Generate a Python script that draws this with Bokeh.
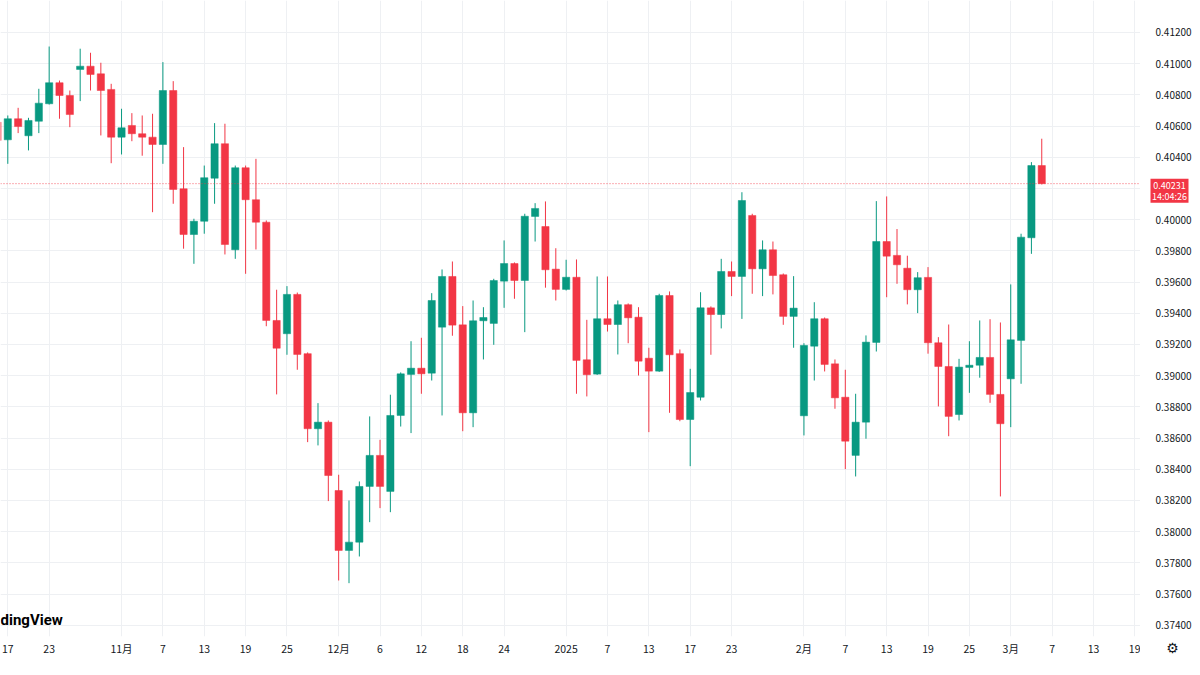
import pandas as pd
from bokeh.plotting import figure
from bokeh.layouts import row
from bokeh.models import Range1d, FixedTicker, Span, Label, ColumnDataSource
from bokeh.core.properties import value
from bokeh.embed import file_html
from bokeh.resources import INLINE

# ---------------- data ----------------
dates = [
    "2024-10-16", "2024-10-17", "2024-10-18", "2024-10-21", "2024-10-22", "2024-10-23", "2024-10-24", "2024-10-25",
    "2024-10-28", "2024-10-29", "2024-10-30", "2024-10-31", "2024-11-01", "2024-11-04", "2024-11-05", "2024-11-06",
    "2024-11-07", "2024-11-08", "2024-11-11", "2024-11-12", "2024-11-13", "2024-11-14", "2024-11-15", "2024-11-18",
    "2024-11-19", "2024-11-20", "2024-11-21", "2024-11-22", "2024-11-25", "2024-11-26", "2024-11-27", "2024-11-28",
    "2024-11-29", "2024-12-02", "2024-12-03", "2024-12-04", "2024-12-05", "2024-12-06", "2024-12-09", "2024-12-10",
    "2024-12-11", "2024-12-12", "2024-12-13", "2024-12-16", "2024-12-17", "2024-12-18", "2024-12-19", "2024-12-20",
    "2024-12-23", "2024-12-24", "2024-12-25", "2024-12-26", "2024-12-27", "2024-12-30", "2024-12-31", "2025-01-01",
    "2025-01-02", "2025-01-03", "2025-01-06", "2025-01-07", "2025-01-08", "2025-01-09", "2025-01-10", "2025-01-13",
    "2025-01-14", "2025-01-15", "2025-01-16", "2025-01-17", "2025-01-20", "2025-01-21", "2025-01-22", "2025-01-23",
    "2025-01-24", "2025-01-27", "2025-01-28", "2025-01-29", "2025-01-30", "2025-01-31", "2025-02-03", "2025-02-04",
    "2025-02-05", "2025-02-06", "2025-02-07", "2025-02-10", "2025-02-11", "2025-02-12", "2025-02-13", "2025-02-14",
    "2025-02-17", "2025-02-18", "2025-02-19", "2025-02-20", "2025-02-21", "2025-02-24", "2025-02-25", "2025-02-26",
    "2025-02-27", "2025-02-28", "2025-03-03", "2025-03-04", "2025-03-05", "2025-03-06",
]

opens = [
    0.40625, 0.40512, 0.40647, 0.40538, 0.40631, 0.40743, 0.40878, 0.40796, 0.40963, 0.40984,
    0.40935, 0.40835, 0.40529, 0.40604, 0.40551, 0.40529, 0.40482, 0.40828, 0.40198, 0.39905,
    0.39990, 0.40266, 0.40487, 0.39807, 0.40333, 0.40128, 0.39984, 0.39354, 0.39269, 0.39521,
    0.39141, 0.38660, 0.38702, 0.38264, 0.37880, 0.37933, 0.38290, 0.38489, 0.38258, 0.38745,
    0.39008, 0.39048, 0.39016, 0.39311, 0.39636, 0.39326, 0.38762, 0.39352, 0.39335, 0.39606,
    0.39719, 0.39610, 0.40021, 0.39956, 0.39683, 0.39553, 0.39631, 0.39102, 0.39010, 0.39365,
    0.39328, 0.39455, 0.39375, 0.39112, 0.39029, 0.39514, 0.39141, 0.38719, 0.38862, 0.39435,
    0.39392, 0.39668, 0.39636, 0.40027, 0.39685, 0.39807, 0.39647, 0.39380, 0.38743, 0.39189,
    0.39365, 0.39076, 0.38862, 0.38489, 0.38702, 0.39213, 0.39860, 0.39771, 0.39689, 0.39551,
    0.39630, 0.39211, 0.39059, 0.38751, 0.39053, 0.39067, 0.39117, 0.38880, 0.38980, 0.39226,
    0.39884, 0.40347,
]

highs = [
    0.40649, 0.40668, 0.40717, 0.40653, 0.40839, 0.41110, 0.40892, 0.40828, 0.41096, 0.41070,
    0.41006, 0.40871, 0.40711, 0.40683, 0.40668, 0.40679, 0.41010, 0.40888, 0.40465, 0.40006,
    0.40347, 0.40619, 0.40615, 0.40347, 0.40347, 0.40390, 0.39995, 0.39551, 0.39574, 0.39533,
    0.39149, 0.38824, 0.38713, 0.38365, 0.38200, 0.38322, 0.38739, 0.38589, 0.38878, 0.39021,
    0.39221, 0.39243, 0.39529, 0.39681, 0.39732, 0.39446, 0.39482, 0.39439, 0.39621, 0.39867,
    0.39726, 0.40038, 0.40106, 0.40117, 0.39817, 0.39743, 0.39745, 0.39358, 0.39636, 0.39636,
    0.39482, 0.39463, 0.39439, 0.39179, 0.39525, 0.39540, 0.39168, 0.39044, 0.39535, 0.39444,
    0.39749, 0.39732, 0.40176, 0.40038, 0.39867, 0.39860, 0.39655, 0.39638, 0.39208, 0.39471,
    0.39373, 0.39104, 0.39038, 0.38884, 0.39258, 0.40119, 0.40149, 0.39940, 0.39769, 0.39664,
    0.39696, 0.39247, 0.39328, 0.39108, 0.39221, 0.39354, 0.39362, 0.39341, 0.39585, 0.39910,
    0.40369, 0.40519,
]

lows = [
    0.40476, 0.40358, 0.40555, 0.40444, 0.40555, 0.40738, 0.40647, 0.40593, 0.40760, 0.40828,
    0.40540, 0.40362, 0.40418, 0.40503, 0.40410, 0.40048, 0.40358, 0.40102, 0.39814, 0.39717,
    0.39910, 0.40102, 0.39777, 0.39749, 0.39653, 0.39809, 0.39317, 0.38880, 0.39134, 0.39038,
    0.38574, 0.38553, 0.38196, 0.37687, 0.37670, 0.37841, 0.38061, 0.38151, 0.38125, 0.38674,
    0.38632, 0.38884, 0.38969, 0.38745, 0.39256, 0.38644, 0.38670, 0.39104, 0.39198, 0.39435,
    0.39493, 0.39279, 0.39860, 0.39564, 0.39482, 0.39546, 0.38884, 0.38867, 0.39005, 0.39283,
    0.39136, 0.39208, 0.39001, 0.38638, 0.39024, 0.38762, 0.38708, 0.38420, 0.38841, 0.39134,
    0.39303, 0.39510, 0.39364, 0.39525, 0.39510, 0.39521, 0.39326, 0.39179, 0.38617, 0.38969,
    0.39027, 0.38788, 0.38401, 0.38354, 0.38596, 0.39155, 0.39503, 0.39589, 0.39457, 0.39401,
    0.39141, 0.38803, 0.38612, 0.38713, 0.38890, 0.38987, 0.38826, 0.38226, 0.38670, 0.38948,
    0.39781, 0.40226,
]

closes = [
    0.40508, 0.40647, 0.40597, 0.40636, 0.40747, 0.40878, 0.40796, 0.40674, 0.40984, 0.40931,
    0.40828, 0.40529, 0.40589, 0.40551, 0.40529, 0.40482, 0.40828, 0.40194, 0.39905, 0.39990,
    0.40269, 0.40487, 0.39841, 0.40333, 0.40128, 0.39984, 0.39354, 0.39176, 0.39521, 0.39136,
    0.38660, 0.38702, 0.38360, 0.37880, 0.37933, 0.38290, 0.38489, 0.38290, 0.38745, 0.39012,
    0.39048, 0.39012, 0.39482, 0.39636, 0.39324, 0.38762, 0.39352, 0.39373, 0.39610, 0.39719,
    0.39610, 0.40022, 0.40072, 0.39679, 0.39553, 0.39631, 0.39098, 0.39006, 0.39365, 0.39328,
    0.39455, 0.39371, 0.39093, 0.39029, 0.39514, 0.39134, 0.38719, 0.38892, 0.39435, 0.39392,
    0.39668, 0.39636, 0.40123, 0.39685, 0.39807, 0.39642, 0.39380, 0.39433, 0.39194, 0.39365,
    0.39072, 0.38858, 0.38580, 0.38702, 0.39215, 0.39860, 0.39766, 0.39711, 0.39551, 0.39628,
    0.39211, 0.39059, 0.38739, 0.39055, 0.39067, 0.39117, 0.38880, 0.38692, 0.39230, 0.39888,
    0.40347, 0.40231,
]

tick_dates = [
    "2024-10-17", "2024-10-23", "2024-11-01", "2024-11-07", "2024-11-13", "2024-11-19", "2024-11-25",
    "2024-12-02", "2024-12-06", "2024-12-12", "2024-12-18", "2024-12-24", "2025-01-01", "2025-01-07",
    "2025-01-13", "2025-01-17", "2025-01-23", "2025-02-03", "2025-02-07", "2025-02-13", "2025-02-19",
    "2025-02-25", "2025-03-03", "2025-03-07", "2025-03-13", "2025-03-19",
]
tick_labels = [
    "17", "23", "11月", "7", "13", "19", "25", "12月", "6", "12", "18", "24", "2025", "7",
    "13", "17", "23", "2月", "7", "13", "19", "25", "3月", "7", "13", "19",
]
price_ticks = [0.374, 0.376, 0.378, 0.380, 0.382, 0.384, 0.386, 0.388, 0.390, 0.392,
               0.394, 0.396, 0.398, 0.400, 0.402, 0.404, 0.406, 0.408, 0.410, 0.412]
last_price = 0.40231
last_price_text = "0.40231"
countdown_text = "14:04:26"

# ---------------- styling ----------------
UP = "#089981"
DOWN = "#F23645"
GRID = "#eef0f3"
TXT = "#131722"
FONT = "Noto Sans CJK SC"
TOP_PRICE = 0.41405      # price at the top edge of the panes
PX = 0.002 / 31.2        # price per pixel
PANE_H = 636             # height of the price panes in pixels

# trading-session index (weekdays) for the time axis
sessions = pd.bdate_range("2024-10-14", "2025-03-31")
pos = {d.strftime("%Y-%m-%d"): i for i, d in enumerate(sessions)}
base = pos[dates[0]]
xs = [pos[d] - base for d in dates]
tick_x = [pos[d] - base for d in tick_dates]

colors = [UP if c >= o else DOWN for o, c in zip(opens, closes)]
src = ColumnDataSource(dict(
    x=xs, o=opens, h=highs, l=lows, c=closes,
    top=[max(o, c) for o, c in zip(opens, closes)],
    bot=[min(o, c) for o, c in zip(opens, closes)],
    color=colors,
))

y_rng = Range1d(TOP_PRICE - PANE_H * PX, TOP_PRICE)

# ---------------- main price pane ----------------
p = figure(
    width=1140, height=675,
    x_range=Range1d(0.294, 110.55),
    y_range=y_rng,
    y_axis_location=None,
    output_backend="svg",
    toolbar_location=None,
    min_border_left=0, min_border_top=0, min_border_right=0, min_border_bottom=39,
)
p.outline_line_color = None
p.background_fill_color = "white"
p.border_fill_color = "white"

p.segment(x0="x", y0="h", x1="x", y1="l", color="color", line_width=1, source=src)
p.vbar(x="x", width=0.7, top="top", bottom="bot", fill_color="color", line_color="color",
       line_width=0.5, source=src)

xa = p.xaxis[0]
xa.ticker = FixedTicker(ticks=tick_x)
xa.major_label_overrides = {t: lab for t, lab in zip(tick_x, tick_labels)}
xa.axis_line_color = None
xa.major_tick_line_color = None
xa.minor_tick_line_color = None
xa.major_tick_out = 0
xa.major_tick_in = 0
xa.minor_tick_out = 0
xa.major_label_standoff = 4
xa.major_label_text_font = FONT
xa.major_label_text_font_size = "10.5px"
xa.major_label_text_color = TXT

p.xgrid.ticker = FixedTicker(ticks=tick_x)
p.ygrid.ticker = FixedTicker(ticks=price_ticks)
p.xgrid.grid_line_color = GRID
p.ygrid.grid_line_color = GRID

p.add_layout(Span(location=last_price, dimension="width", line_color=DOWN,
                  line_dash="1 2", line_width=1, line_alpha=0.8))
p.add_layout(Label(x=0, x_units="screen", y=17, y_units="screen",
                   text="dingView", text_baseline="middle", text_align="left",
                   text_color="#000000", text_font="Roboto", text_font_style="bold",
                   text_font_size="15px"))

# ---------------- price scale pane ----------------
s = figure(
    width=60, height=675,
    x_range=Range1d(0, 60),
    y_range=y_rng,
    y_axis_location=None,
    output_backend="svg",
    toolbar_location=None,
    min_border_left=0, min_border_top=0, min_border_right=0, min_border_bottom=39,
)
s.outline_line_color = None
s.background_fill_color = "white"
s.border_fill_color = "white"
s.xgrid.visible = False
s.ygrid.visible = False

# settings glyph under the price scale
sa = s.xaxis[0]
sa.ticker = FixedTicker(ticks=[32])
sa.major_label_overrides = {32: "⚙"}
sa.axis_line_color = None
sa.major_tick_line_color = None
sa.minor_tick_line_color = None
sa.major_tick_out = 0
sa.major_tick_in = 0
sa.minor_tick_out = 0
sa.major_label_standoff = 3
sa.major_label_text_font = "DejaVu Sans"
sa.major_label_text_font_size = "14px"
sa.major_label_text_color = TXT

shown = [t for t in price_ticks if abs(t - last_price) > 0.001]
s.text(x=[15] * len(shown), y=shown, text=[f"{t:.5f}" for t in shown],
       text_font=value(FONT), text_font_size="10px", text_color=TXT,
       text_align="left", text_baseline="middle")

s.quad(left=[10], right=[48], top=[last_price + 5 * PX], bottom=[last_price - 19 * PX],
       fill_color=DOWN, line_color=None)
s.text(x=[29], y=[last_price - 1.5 * PX], text=[last_price_text],
       text_font=value(FONT), text_font_size="9px", text_color="white",
       text_align="center", text_baseline="middle")
s.text(x=[29], y=[last_price - 12.5 * PX], text=[countdown_text],
       text_font=value(FONT), text_font_size="9px", text_color="white",
       text_align="center", text_baseline="middle")

layout = row(p, s, spacing=0)
open("out.html", "w").write(file_html(layout, INLINE))
